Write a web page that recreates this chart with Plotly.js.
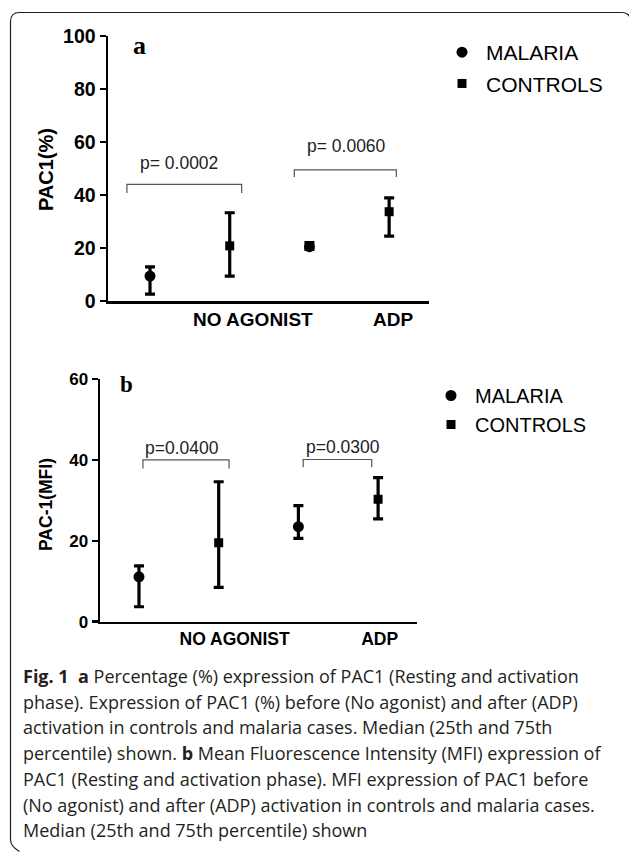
<!DOCTYPE html>
<html>
<head>
<meta charset="utf-8">
<script src="https://cdn.plot.ly/plotly-3.0.1.min.js"></script>
<style>
  html, body { margin: 0; padding: 0; background: #ffffff; }
  #chart { width: 629px; height: 852px; }
</style>
</head>
<body>
<div id="chart"></div>
<script>
// ---------------- DATA ----------------
const groups = ['NO AGONIST', 'ADP'];
const seriesNames = ['MALARIA', 'CONTROLS'];

// Panel a: PAC1 (%) — median with 25th / 75th percentile
const pctMalariaMedian  = [9.4, 20.5];
const pctMalariaQ1      = [2.6, 19.5];
const pctMalariaQ3      = [12.9, 22.0];
const pctControlsMedian = [20.8, 33.7];
const pctControlsQ1     = [9.4, 24.5];
const pctControlsQ3     = [33.3, 38.9];

// Panel b: PAC-1 (MFI) — median with 25th / 75th percentile
const mfiMalariaMedian  = [11.1, 23.5];
const mfiMalariaQ1      = [3.7, 20.6];
const mfiMalariaQ3      = [13.8, 28.7];
const mfiControlsMedian = [19.5, 30.3];
const mfiControlsQ1     = [8.5, 25.4];
const mfiControlsQ3     = [34.6, 35.6];

const pValuesA = ['p= 0.0002', 'p= 0.0060'];
const pValuesB = ['p=0.0400', 'p=0.0300'];

const captionLines = [
  '<b>Fig. 1  a</b> Percentage (%) expression of PAC1 (Resting and activation',
  'phase). Expression of PAC1 (%) before (No agonist) and after (ADP)',
  'activation in controls and malaria cases. Median (25th and 75th',
  'percentile) shown. <b>b</b> Mean Fluorescence Intensity (MFI) expression of',
  'PAC1 (Resting and activation phase). MFI expression of PAC1 before',
  '(No agonist) and after (ADP) activation in controls and malaria cases.',
  'Median (25th and 75th percentile) shown'
];

// ---------------- HELPERS ----------------
const W = 629, H = 852;
const px = x => x / W;
const py = y => 1 - y / H;
const SANS = 'Liberation Sans, Arial, sans-serif';

const xMal = groups.map((g, i) => i * 2 + 1);
const xCon = groups.map((g, i) => i * 2 + 2);

function seriesTrace(name, xs, med, q1, q3, symbol, size, xa, ya, legendName, group) {
  return {
    type: 'scatter', mode: 'markers', name: name,
    x: xs, y: med, xaxis: xa, yaxis: ya, legend: legendName,
    legendgroup: group,
    marker: { symbol: symbol, size: size, color: '#000000' },
    error_y: {
      type: 'data', symmetric: false,
      array: med.map((m, i) => q3[i] - m),
      arrayminus: med.map((m, i) => m - q1[i]),
      color: '#000000', thickness: 3.2, width: 5
    },
    hoverinfo: 'skip'
  };
}

const data = [
  seriesTrace(seriesNames[0], xMal, pctMalariaMedian, pctMalariaQ1, pctMalariaQ3, 'circle', 11, 'x', 'y', 'legend', 'a1'),
  seriesTrace(seriesNames[1], xCon, pctControlsMedian, pctControlsQ1, pctControlsQ3, 'square', 9, 'x', 'y', 'legend', 'a2'),
  seriesTrace(seriesNames[0], xMal, mfiMalariaMedian, mfiMalariaQ1, mfiMalariaQ3, 'circle', 11, 'x2', 'y2', 'legend2', 'b'),
  seriesTrace(seriesNames[1], xCon, mfiControlsMedian, mfiControlsQ1, mfiControlsQ3, 'square', 9, 'x2', 'y2', 'legend2', 'b')
];

// bracket helper (data coords)
function bracket(xa, ya, x0, x1, yTop, yEnd) {
  return {
    type: 'path', xref: xa, yref: ya,
    path: `M ${x0},${yEnd} L ${x0},${yTop} L ${x1},${yTop} L ${x1},${yEnd}`,
    line: { color: '#555555', width: 1.2 }
  };
}

// outer rounded frame (paper coords from pixels)
const r = 9, L = 10.5, T = 12.5, R = 630.5, B = 848.5;
const framePath =
  `M ${px(L + r)},${py(B + 3)} Q ${px(L)},${py(B - 2)} ${px(L)},${py(B - r)} ` +
  `L ${px(L)},${py(T + r)} Q ${px(L)},${py(T)} ${px(L + r)},${py(T)} ` +
  `L ${px(R - r)},${py(T)} Q ${px(R)},${py(T)} ${px(R)},${py(T + r)}`;

const shapes = [
  { type: 'path', xref: 'paper', yref: 'paper', path: framePath, line: { color: '#231f20', width: 1.2 } },
  bracket('x', 'y', 0.71, 2.15, 44.0, 40.8),
  bracket('x', 'y', 2.81, 4.09, 49.5, 46.8),
  bracket('x2', 'y2', 1.05, 2.13, 40.0, 37.9),
  bracket('x2', 'y2', 3.06, 3.92, 40.1, 38.2)
];

function note(xref, yref, x, y, text, font, extra) {
  return Object.assign({ xref, yref, x, y, text, showarrow: false,
    xanchor: 'center', yanchor: 'middle', font }, extra || {});
}
const pFont = { family: SANS, size: 17.5, color: '#222' };
const serif = 'Liberation Serif, Times New Roman, serif';

const annotations = [
  note('x', 'y', 1.36, 52.2, pValuesA[0], pFont),
  note('x', 'y', 3.47, 58.5, pValuesA[1], pFont),
  note('x2', 'y2', 1.54, 42.9, pValuesB[0], pFont),
  note('x2', 'y2', 3.56, 43.3, pValuesB[1], pFont),
  // panel letters
  note('paper', 'paper', px(139), py(45), '<b>a</b>', { family: serif, size: 26, color: '#000' }),
  note('paper', 'paper', px(126), py(384), '<b>b</b>', { family: serif, size: 23, color: '#000' }),
  // y-axis titles
  note('paper', 'paper', px(46), py(170), '<b>PAC1(%)</b>', { family: SANS, size: 20, color: '#000' }, { textangle: -90 }),
  note('paper', 'paper', px(46), py(505), '<b>PAC-1(MFI)</b>', { family: SANS, size: 17.5, color: '#000' }, { textangle: -90 })
];

captionLines.forEach((t, i) => {
  annotations.push(note('paper', 'paper', px(21), py(676 + i * 25.7), t,
    { family: 'Open Sans, sans-serif', size: 18, color: '#231f20' }, { xanchor: 'left' }));
});

const yAxisCommon = {
  showline: true, linecolor: '#000', linewidth: 2.5, mirror: false,
  showgrid: false, zeroline: false, ticks: 'outside', ticklen: 6, tickwidth: 2.5,
  tickcolor: '#000', fixedrange: true
};
const xAxisCommon = {
  showline: true, linecolor: '#000', linewidth: 2.5, showgrid: false,
  zeroline: false, ticks: '', fixedrange: true
};

const layout = {
  width: W, height: H,
  margin: { l: 0, r: 0, t: 0, b: 0 },
  paper_bgcolor: '#ffffff', plot_bgcolor: '#ffffff',
  showlegend: true,
  xaxis: Object.assign({}, xAxisCommon, {
    domain: [px(108), px(429)], range: [0.473, 4.50], anchor: 'y',
    tickmode: 'array', tickvals: [2.29, 4.05], ticktext: groups,
    tickfont: { family: SANS, size: 19, color: '#000', weight: 'bold' }
  }),
  yaxis: Object.assign({}, yAxisCommon, {
    domain: [py(301), py(36)], range: [0, 100], anchor: 'x',
    tickmode: 'array', tickvals: [0, 20, 40, 60, 80, 100],
    tickfont: { family: SANS, size: 19.5, color: '#000', weight: 'bold' }
  }),
  xaxis2: Object.assign({}, xAxisCommon, {
    domain: [px(100), px(417)], range: [0.511, 4.488], anchor: 'y2',
    tickmode: 'array', tickvals: [2.20, 4.02], ticktext: groups,
    tickfont: { family: SANS, size: 17.5, color: '#000', weight: 'bold' }
  }),
  yaxis2: Object.assign({}, yAxisCommon, {
    domain: [py(621.7), py(379)], range: [0, 60], anchor: 'x2',
    tickmode: 'array', tickvals: [0, 20, 40, 60],
    tickfont: { family: SANS, size: 17, color: '#000', weight: 'bold' }
  }),
  legend: {
    x: px(438), y: py(32), xanchor: 'left', yanchor: 'top',
    bgcolor: 'rgba(0,0,0,0)', borderwidth: 0, tracegroupgap: 1, itemwidth: 38,
    font: { family: SANS, size: 21, color: '#000' }
  },
  legend2: {
    x: px(427), y: py(376), xanchor: 'left', yanchor: 'top',
    bgcolor: 'rgba(0,0,0,0)', borderwidth: 0, tracegroupgap: 0, itemwidth: 38,
    font: { family: SANS, size: 20, color: '#000' }
  },
  shapes: shapes,
  annotations: annotations
};

Plotly.newPlot('chart', data, layout, { staticPlot: true, displayModeBar: false });
</script>
</body>
</html>
